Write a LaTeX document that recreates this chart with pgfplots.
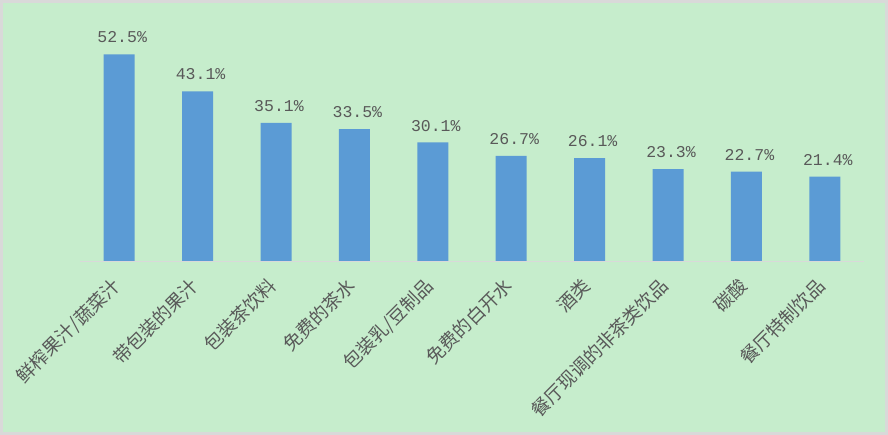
\documentclass[border=0pt]{standalone}
\usepackage{pgfplots}
\pgfplotsset{compat=1.18}
\usepackage{fontspec}
\setmainfont{Liberation Sans}
\newfontfamily\cjk{Noto Sans CJK SC}
\newfontfamily\mono{Liberation Mono}
\definecolor{bg}{HTML}{C6EDCC}
\definecolor{barblue}{HTML}{5B9BD5}
\definecolor{txt}{HTML}{595959}
\definecolor{frame}{HTML}{D9D9D9}
\begin{document}
\begin{tikzpicture}[x=1pt,y=1pt]
\useasboundingbox (0,0) rectangle (888,435);
\fill[frame] (0,0) rectangle (888,435);
\fill[bg] (3,3) rectangle (885,432);
\begin{axis}[
  at={(80pt,174pt)}, anchor=south west,
  scale only axis, width=784pt, height=241pt,
  xmin=-0.5, xmax=9.5, ymin=0, ymax=61.2,
  hide y axis,
  axis x line*=bottom,
  x axis line style={frame, line width=0.8pt, -},
  xtick=data,
  xticklabels={鲜榨果汁/蔬菜汁,带包装的果汁,包装茶饮料,免费的茶水,包装乳/豆制品,免费的白开水,酒类,餐厅现调的非茶类饮品,碳酸,餐厅特制饮品},
  xticklabel style={xshift=-9pt, yshift=-15pt, rotate=45, anchor=north east, inner sep=0pt, font=\cjk\fontsize{18.5}{19}\selectfont, text=txt},
  major tick length=0pt,
  ybar, bar width=31pt,
  /pgf/number format/assume math mode=true,
  nodes near coords={\pgfmathprintnumber[fixed,fixed zerofill,precision=1]{\pgfplotspointmeta}\%},
  nodes near coords style={font=\mono\fontsize{16.5}{17}\selectfont, text=txt, inner sep=4pt, xshift=3pt, yshift=7pt},
  clip=false,
]
\addplot[fill=barblue, draw=none] coordinates {
(0,52.5) (1,43.1) (2,35.1) (3,33.5) (4,30.1) (5,26.7) (6,26.1) (7,23.3) (8,22.7) (9,21.4)};
\end{axis}
\end{tikzpicture}
\end{document}
